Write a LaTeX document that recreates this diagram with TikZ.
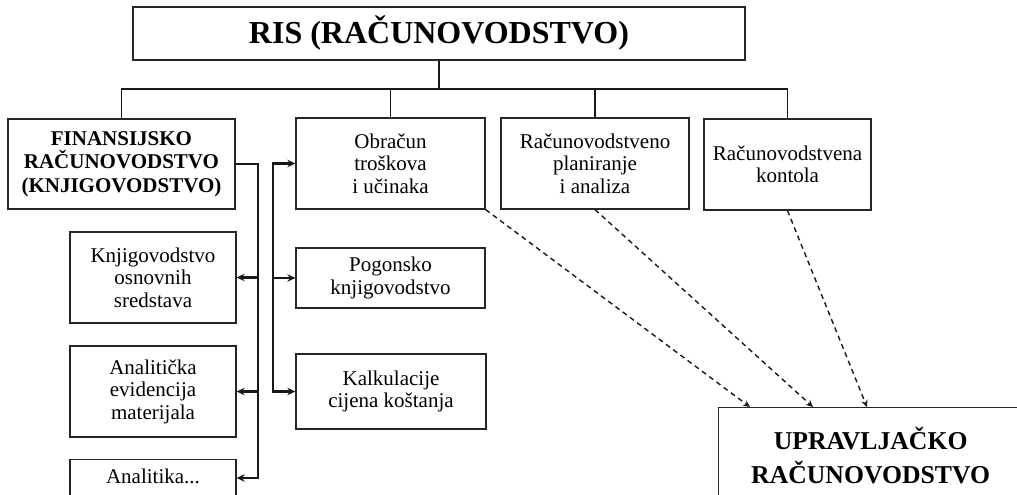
\documentclass[tikz,border=0pt]{standalone}
\usepackage{fontspec}
\setmainfont{Liberation Serif}
\usetikzlibrary{arrows.meta}
\begin{document}
\begin{tikzpicture}[x=1pt,y=-1pt,
  box/.style={draw=black!85, line width=1.3pt, align=center, inner sep=0pt,
    font=\fontsize{21}{22.5}\selectfont},
  bus/.style={draw=black!90, line width=1.7pt},
  feed/.style={draw=black!90, line width=2.5pt, line cap=rect,
    -{Stealth[length=8pt,width=7.5pt]}},
  link/.style={draw=black!90, line width=1.4pt, dash pattern=on 5pt off 4pt,
    -{Stealth[length=7pt,width=6.5pt]}},
]
\useasboundingbox (0,0) rectangle (1017,495);
\clip (0,0) rectangle (1017,495);

% top level
\node[box, minimum width=612pt, minimum height=53pt,
  font=\bfseries\fontsize{32}{36}\selectfont] (ris) at (439,33.5) {RIS (RAČUNOVODSTVO)};

% second row
\node[box, minimum width=227pt, minimum height=90pt,
  font=\bfseries\fontsize{21}{23.5}\selectfont] (fin) at (121.5,164)
  {FINANSIJSKO\\RAČUNOVODSTVO\\(KNJIGOVODSTVO)};
\node[box, minimum width=189pt, minimum height=91pt] (obr) at (390.5,163.5)
  {Obračun\\troškova\\i učinaka};
\node[box, minimum width=188pt, minimum height=91pt] (plan) at (595,163.5)
  {Računovodstveno\\planiranje\\i analiza};
\node[box, minimum width=167pt, minimum height=91pt] (kon) at (787.5,164.5)
  {Računovodstvena\\kontola};

% financial accounting sub-ledgers
\node[box, minimum width=166pt, minimum height=91pt] (kos) at (153,277.5)
  {Knjigovodstvo\\osnovnih\\sredstava};
\node[box, minimum width=166pt, minimum height=91pt] (ame) at (153,391.5)
  {Analitička\\evidencija\\materijala};
\node[box, anchor=north, minimum width=166pt, inner ysep=10pt,
  text height=14pt, text depth=57pt] (ana) at (153,459) {Analitika...};

% cost accounting parts
\node[box, minimum width=189pt, minimum height=60pt] (pog) at (390.5,278)
  {Pogonsko\\knjigovodstvo};
\node[box, minimum width=190pt, minimum height=75pt] (kal) at (391,391.5)
  {Kalkulacije\\cijena koštanja};

% management accounting
\node[box, anchor=north west, minimum width=304pt, minimum height=95pt,
  font=\bfseries\fontsize{25.7}{34}\selectfont] (upr) at (718,407)
  {UPRAVLJAČKO\\RAČUNOVODSTVO};

% tree from the top box
\coordinate (busy) at (0,89);
\draw[bus] (ris.south) -- (ris.south |- busy);
\draw[bus] (fin.north) -- (fin.north |- busy) -| (kon.north);
\draw[bus] (obr.north) -- (obr.north |- busy);
\draw[bus] (plan.north) -- (plan.north |- busy);

% left feed lines
\coordinate (lend) at (258,478);
\draw[feed] (fin.east) -| (lend) -- (lend -| ana.east);
\draw[feed] (kos.east -| lend) -- (kos.east);
\draw[feed] (ame.east -| lend) -- (ame.east);

% right feed lines
\coordinate (rx) at (273,0);
\draw[feed] (kal.west -| rx) |- (obr.west);
\draw[feed] (kal.west -| rx) -- (kal.west);
\draw[feed] (pog.west -| rx) -- (pog.west);

% dashed links into management accounting
\coordinate (u1) at (750,407);
\coordinate (u2) at (813,407);
\coordinate (u3) at (867,407);
\draw[link] (obr.south east) -- (u1);
\draw[link] (plan.south) -- (u2);
\draw[link] (kon.south) -- (u3);
\end{tikzpicture}
\end{document}
